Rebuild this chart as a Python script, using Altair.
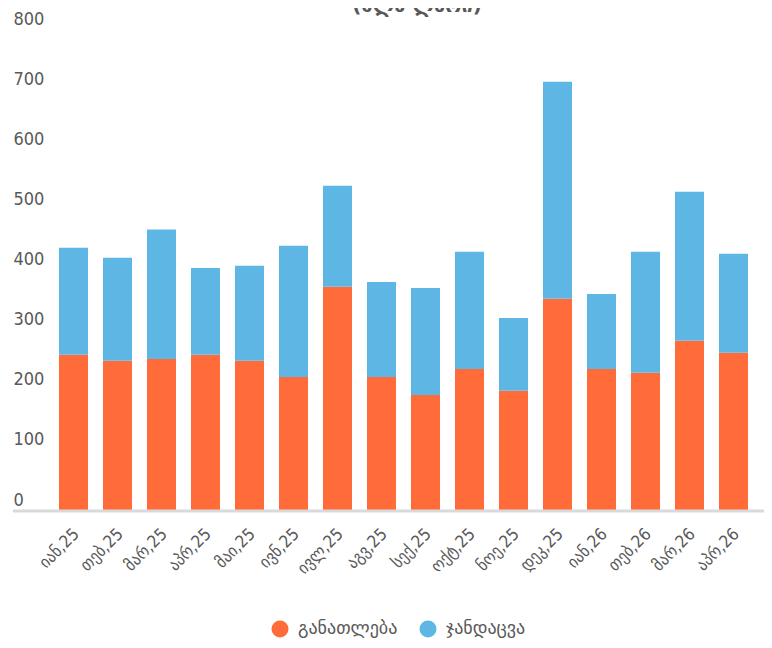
import altair as alt
import pandas as pd

months = ["იან,25", "თებ,25", "მარ,25", "აპრ,25", "მაი,25", "ივნ,25", "ივლ,25", "აგვ,25",
          "სექ,25", "ოქტ,25", "ნოე,25", "დეკ,25", "იან,26", "თებ,26", "მარ,26", "აპრ,26"]
education = [260, 250, 253, 260, 250, 223, 373, 223, 193, 236, 200, 353, 236, 230, 283, 263]
health = [178, 171, 215, 144, 158, 218, 168, 158, 178, 195, 121, 361, 125, 201, 248, 165]
series_names = ["განათლება", "ჯანდაცვა"]
colors = ["#FF6B39", "#5EB6E5"]
title_text = ["(მლნ ლარი)"]
y_ticks = [0, 100, 200, 300, 400, 500, 600, 700, 800]

rows = []
for i, m in enumerate(months):
    rows.append({"month": m, "series": series_names[0], "value": education[i], "order": 0})
    rows.append({"month": m, "series": series_names[1], "value": health[i], "order": 1})
df = pd.DataFrame(rows)

W, H = 704, 481
NUM_FONT = "Liberation Sans Narrow, DejaVu Sans Condensed, sans-serif"
GEO_FONT = "DejaVu Sans, sans-serif"
GRAY = "#595959"

y_axis = alt.Axis(title=None, values=y_ticks, domain=False, ticks=False, grid=False,
                  labelAlign="left", labelBaseline="middle", labelPadding=38.5,
                  labelOffset=-11, labelFont=NUM_FONT, labelFontSize=18, labelColor=GRAY)
y_scale = alt.Scale(domain=[0, 800], nice=False)

bars = alt.Chart(df).mark_bar().encode(
    x=alt.X("month:N", sort=months,
            scale=alt.Scale(paddingInner=0.341, paddingOuter=0.1705),
            axis=alt.Axis(title=None, domain=False, ticks=False, labelAngle=-45,
                          labelAlign="right", labelBaseline="middle", labelPadding=20,
                          labelOffset=3, labelFont=NUM_FONT, labelFontSize=17,
                          labelColor=GRAY)),
    y=alt.Y("value:Q", stack="zero", scale=y_scale, axis=y_axis),
    color=alt.Color("series:N",
                    scale=alt.Scale(domain=series_names, range=colors),
                    legend=alt.Legend(orient="none", legendX=219.5, legendY=590,
                                      direction="horizontal", title=None,
                                      symbolType="circle", symbolSize=289,
                                      symbolStrokeWidth=0, labelFont=GEO_FONT,
                                      labelFontSize=18, labelColor=GRAY,
                                      labelOffset=9, columnPadding=21)),
    order=alt.Order("order:Q", sort="ascending"),
)

rule_df = pd.DataFrame({"value": [0]})
rule = alt.Chart(rule_df).mark_rule(color="#D9D9D9", strokeWidth=3).encode(
    x=alt.value(-38.5), x2=alt.value(716),
    y=alt.Y("value:Q", scale=y_scale, axis=y_axis),
)

title_df = pd.DataFrame({"t": title_text})
title = alt.Chart(title_df).mark_text(
    font=GEO_FONT, fontSize=20, fontWeight="bold", color=GRAY,
    align="center", baseline="alphabetic"
).encode(x=alt.value(365.5), y=alt.value(-18), text="t:N")

chart = alt.layer(bars, rule, title).properties(
    width=W, height=H,
    padding={"left": 43.5, "top": 22, "right": 8.5, "bottom": 129},
    autosize=alt.AutoSizeParams(type="none"),
).configure_view(stroke=None)

chart.save("out.html", embed_options={"renderer": "svg", "actions": False})
